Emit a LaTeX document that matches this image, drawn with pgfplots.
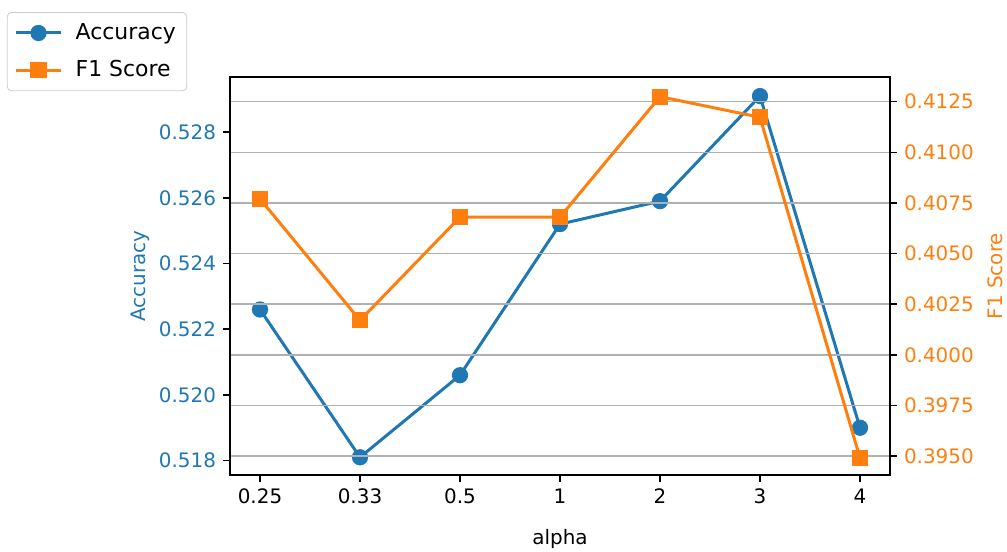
\documentclass[border=0pt]{standalone}
\usepackage{fontspec}
\setmainfont{DejaVu Sans}
\usepackage{pgfplots}
\pgfplotsset{compat=1.18}
\definecolor{mblue}{HTML}{1F77B4}
\definecolor{morange}{HTML}{FF7F0E}
\definecolor{mgrid}{HTML}{B0B0B0}
\definecolor{mlegend}{HTML}{CCCCCC}
\begin{document}
\begin{tikzpicture}
\pgfplotsset{
 common/.style={scale only axis, width=330bp, height=199bp, xmin=-0.3, xmax=6.3,
   tick align=outside, major tick length=3.5bp,
   axis line style={line width=0.8bp},
   every tick/.style={black, line width=0.8bp},
   /pgf/number format/assume math mode=true,
   tick label style={font=\fontsize{10}{12}\selectfont},
   label style={font=\fontsize{10}{12}\selectfont},
   scaled y ticks=false},
}
\begin{axis}[common, name=ax1,
  ymin=0.51756, ymax=0.52968,
  xtick={0,...,6}, xticklabels={0.25,0.33,0.5,1,2,3,4},
  xtick pos=bottom, ytick pos=left,
  ytick={0.518,0.520,0.522,0.524,0.526,0.528},
  yticklabel style={color=mblue, /pgf/number format/fixed, /pgf/number format/fixed zerofill, /pgf/number format/precision=3},
  xlabel={alpha}, xlabel style={yshift=-6bp},
  ylabel={Accuracy}, ylabel style={color=mblue, yshift=-2bp}]
\addplot[mblue, line width=1.5bp, mark=*, mark size=3.3bp] coordinates {
 (0,0.5226) (1,0.5181) (2,0.5206) (3,0.5252) (4,0.5259) (5,0.5291) (6,0.5190)};
\end{axis}
\begin{axis}[common,
  ymin=0.39406, ymax=0.41372,
  xtick=\empty, ytick pos=right, yticklabel pos=right, ylabel near ticks,
  ytick={0.3950,0.3975,0.4000,0.4025,0.4050,0.4075,0.4100,0.4125},
  yticklabel style={color=morange, /pgf/number format/fixed, /pgf/number format/fixed zerofill, /pgf/number format/precision=4},
  ylabel={F1 Score}, ylabel style={color=morange},
  ymajorgrids, grid style={mgrid, line width=0.8bp},
  legend cell align=left,
  legend image code/.code={\draw[mark repeat=2,mark phase=2,#1] plot coordinates {(0cm,0cm) (0.4cm,0cm) (0.8cm,0cm)};\path (0.96cm,0cm);},
  legend style={at={(-0.338,1.163)}, anchor=north west, draw=mlegend, rounded corners=2bp,
    font=\fontsize{11}{13}\selectfont, row sep=5bp, inner sep=3.5bp}]
\addlegendimage{mblue, line width=1.5bp, mark=*, mark size=3.3bp}
\addlegendentry{Accuracy}
\addplot[morange, line width=1.5bp, mark=square*, mark size=3.3bp] coordinates {
 (0,0.4077) (1,0.4017) (2,0.4068) (3,0.4068) (4,0.41275) (5,0.41173) (6,0.3949)};
\addlegendentry{F1 Score}
\end{axis}
\pgfresetboundingbox
\path ([shift={(-115bp,-38bp)}]ax1.south west) rectangle ([shift={(58.5bp,38.5bp)}]ax1.north east);
\end{tikzpicture}
\end{document}
